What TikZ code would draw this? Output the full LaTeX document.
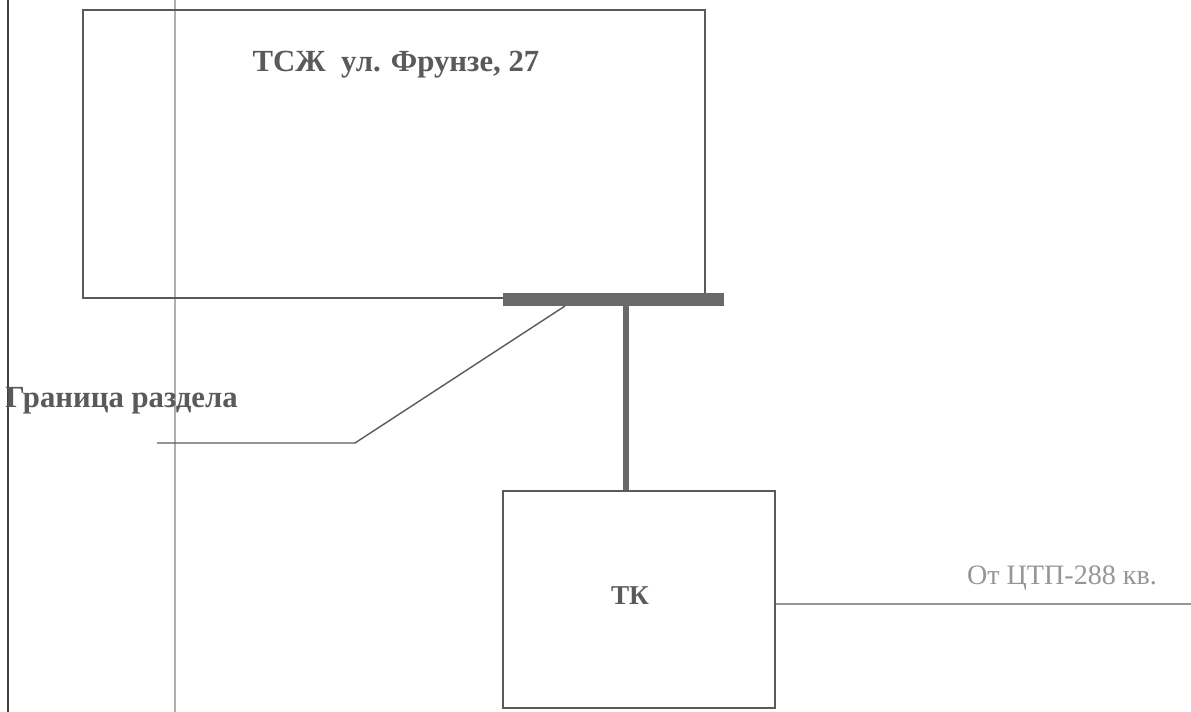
\documentclass[tikz,border=0pt]{standalone}
\usepackage{fontspec}
\setmainfont{Liberation Serif}
\usetikzlibrary{positioning}
\definecolor{inkgray}{RGB}{90,90,90}
\definecolor{bargray}{RGB}{105,105,105}
\definecolor{fadegray}{RGB}{150,150,150}
\definecolor{scangray}{RGB}{175,175,175}
\begin{document}
\begin{tikzpicture}[x=0.02cm,y=-0.02cm,
        box/.style={draw=inkgray,line width=1.1pt,inner sep=0pt},
        pipe/.style={draw=bargray,line width=3.4pt},
        thinline/.style={draw=inkgray,line width=0.8pt},
        boldtext/.style={font=\bfseries\fontsize{17.5}{20}\selectfont,text=inkgray}]
    \useasboundingbox (0,0) rectangle (1191,712);
    % scan edges
    \draw[line width=1.7pt,black!75] (8,0) -- (8,712);
    \draw[line width=0.8pt,scangray] (175,0) -- (175,712);
    % house and boundary bar
    \node[box,minimum width=12.44cm,minimum height=5.76cm] (house) at (394,154) {};
    \node[boldtext,anchor=base] (houselabel) at (396,72) {ТСЖ\ \ ул. Фрунзе, 27};
    \node[fill=bargray,minimum width=4.42cm,minimum height=0.26cm,inner sep=0pt] (border) at (613.5,299.5) {};
    % heat chamber
    \node[box,minimum width=5.44cm,minimum height=4.34cm] (tk) at (639,599.5) {};
    \node[anchor=base,font=\bfseries\fontsize{15.5}{18}\selectfont,text=inkgray] (tklabel) at (630,605) {ТК};
    \coordinate (tap) at (626,306);
    \draw[pipe] (tap) -- (tap |- tk.north);
    % feed from the substation
    \coordinate (feedend) at (1191,604);
    \draw[line width=0.8pt,fadegray] (tk.east |- feedend) -- (feedend);
    \node[anchor=base,text=fadegray,font=\fontsize{16}{19}\selectfont] (feedlabel) at (1062,585) {От ЦТП-288 кв.};
    % boundary callout
    \coordinate (leadstart) at (565,306);
    \coordinate (leadbend) at (355,443);
    \coordinate (leadend) at (157,443);
    \draw[thinline] (leadstart) -- (leadbend) -- (leadend);
    \node[boldtext,anchor=base west,inner sep=0pt] (borderlabel) at (5,408) {Граница раздела};
\end{tikzpicture}
\end{document}
